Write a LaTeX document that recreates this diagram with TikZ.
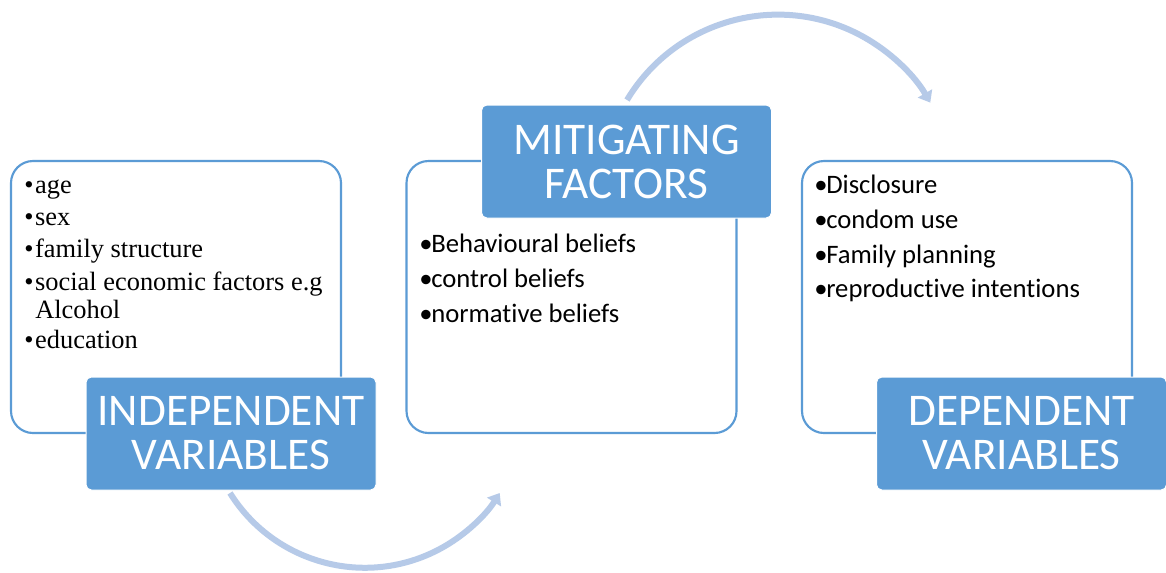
\documentclass[tikz,border=0pt]{standalone}
\usepackage{fontspec}
\setmainfont{Liberation Serif}
\newfontfamily\carlito[Ligatures=NoCommon]{Carlito}
\usetikzlibrary{arrows.meta}
\definecolor{boxblue}{RGB}{91,155,213}
\definecolor{flowblue}{RGB}{182,202,232}
\begin{document}
\begin{tikzpicture}[x=0.75pt,y=-0.75pt,
  outline/.style={draw=boxblue, line width=1.6pt, rounded corners=16.5pt,
    minimum width=247.5pt, minimum height=204pt, inner sep=0pt},
  labelbox/.style={fill=boxblue, draw=white, line width=0.75pt, rounded corners=4pt,
    minimum width=217.5pt, minimum height=84.75pt, inner sep=0pt, align=center,
    text=white, font=\carlito\fontsize{34pt}{33pt}\selectfont},
  serifitem/.style={anchor=base west, inner sep=0pt, font=\fontsize{19.8pt}{21pt}\selectfont},
  sansitem/.style={anchor=base west, inner sep=0pt, font=\carlito\fontsize{20pt}{21pt}\selectfont},
  flow/.style={draw=flowblue, line width=4.5pt,
    -{Triangle[length=8pt, width=12pt]}}]
\fill[white] (0,0) rectangle (1166,572);
\useasboundingbox (0,0) rectangle (1166,572);

% curved arrows between the stages
\coordinate (lowstart) at (230,493);
\coordinate (highstart) at (627,100);
\draw[flow] (lowstart) arc[start angle=148, end angle=32, radius=159];
\draw[flow] (highstart) arc[start angle=-149, end angle=-30, radius=176];

% outlined list boxes
\node[outline] (indbox) at (176,297) {};
\node[outline] (mitbox) at (571.5,297) {};
\node[outline] (depbox) at (967,297) {};

% independent variables list
\node[serifitem] (i1) at (24,193) {\makebox[8.2pt][l]{\textbullet}age};
\node[serifitem] (i2) at (24,225) {\makebox[8.2pt][l]{\textbullet}sex};
\node[serifitem] (i3) at (24,257) {\makebox[8.2pt][l]{\textbullet}family structure};
\node[serifitem] (i4) at (24,290) {\makebox[8.2pt][l]{\textbullet}social economic factors e.g};
\node[serifitem] (i4b) at (35,318) {Alcohol};
\node[serifitem] (i5) at (24,348) {\makebox[8.2pt][l]{\textbullet}education};

% mitigating factors list
\node[sansitem] (m1) at (419,252) {\makebox[9pt][l]{•}Behavioural beliefs};
\node[sansitem] (m2) at (419,287) {\makebox[9pt][l]{•}control beliefs};
\node[sansitem] (m3) at (419,322) {\makebox[9pt][l]{•}normative beliefs};

% dependent variables list
\node[sansitem] (d1) at (814,193) {\makebox[9pt][l]{•}Disclosure};
\node[sansitem] (d2) at (814,228) {\makebox[9pt][l]{•}condom use};
\node[sansitem] (d3) at (814,263) {\makebox[9pt][l]{•}Family planning};
\node[sansitem] (d4) at (814,297) {\makebox[9pt][l]{•}reproductive intentions};

% filled title boxes
\node[labelbox] (indlabel) at (231,433.5) {INDEPENDENT\\VARIABLES};
\node[labelbox] (mitlabel) at (626.5,161.5) {MITIGATING\\FACTORS};
\node[labelbox] (deplabel) at (1021.5,433.5) {DEPENDENT\\VARIABLES};
\end{tikzpicture}
\end{document}
